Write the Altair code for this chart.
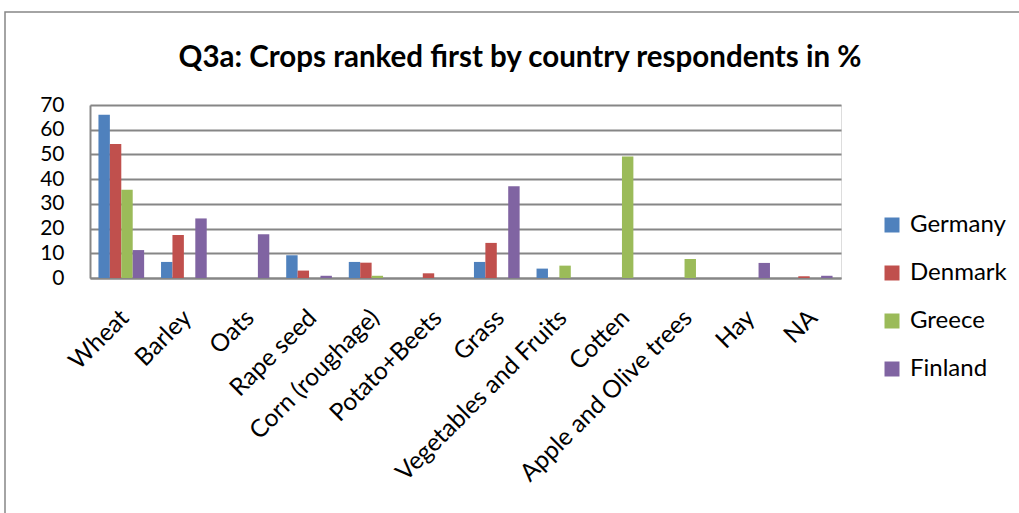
import altair as alt
import pandas as pd

crops = ["Wheat", "Barley", "Oats", "Rape seed", "Corn (roughage)", "Potato+Beets",
         "Grass", "Vegetables and Fruits", "Cotten", "Apple and Olive trees", "Hay", "NA"]
countries = ["Germany", "Denmark", "Greece", "Finland"]
colors = ["#4F81BD", "#C0504D", "#9BBB59", "#8064A2"]

germany = [66.1, 6.5, 0, 9.2, 6.5, 0, 6.5, 3.8, 0, 0, 0, 0]
denmark = [54.2, 17.4, 0, 3.0, 6.2, 1.9, 14.2, 0, 0, 0, 0, 0.7]
greece = [35.7, 0, 0, 0, 0.9, 0, 0, 5.0, 49.2, 7.7, 0, 0]
finland = [11.3, 24.1, 17.7, 0.9, 0, 0, 37.1, 0, 0, 0, 6.1, 0.9]

title_text = "Q3a: Crops ranked first by country respondents in %"

series = {"Germany": germany, "Denmark": denmark, "Greece": greece, "Finland": finland}
rows = []
for country in countries:
    for crop, v in zip(crops, series[country]):
        rows.append({"crop": crop, "country": country, "value": v})
df = pd.DataFrame(rows)

FONT = "Lato"

bars = alt.Chart(df).mark_bar().encode(
    x=alt.X("crop:N", sort=crops, title=None,
            scale=alt.Scale(paddingInner=0.27, paddingOuter=0.135),
            axis=alt.Axis(labelAngle=-45, labelFontSize=24.5, labelFont=FONT, labelColor="#000000",
                          labelAlign="right", labelBaseline="middle", labelPadding=36,
                          labelOffset=4, labelLimit=0,
                          ticks=False, domainColor="#868686", domainWidth=2, grid=False,
                          labelOverlap=False)),
    xOffset=alt.XOffset("country:N", sort=countries),
    y=alt.Y("value:Q", title=None, scale=alt.Scale(domain=[0, 70], nice=False),
            axis=alt.Axis(values=list(range(0, 71, 10)), labelFontSize=21, labelFont=FONT,
                          labelColor="#000000", labelPadding=26, ticks=False,
                          domainColor="#868686", domainWidth=2,
                          gridColor="#868686", gridWidth=2)),
    color=alt.Color("country:N", sort=countries,
                    scale=alt.Scale(domain=countries, range=colors),
                    legend=alt.Legend(title=None, orient="none", legendX=790, legendY=108,
                                      symbolType="square", symbolSize=225, symbolStrokeWidth=0,
                                      labelFontSize=24, labelFont=FONT, labelColor="#000000",
                                      rowPadding=24, labelOffset=6)),
)

# chart border
frame = alt.Chart(pd.DataFrame({"a": [0]})).mark_rect(
    fill=None, stroke="#868686", strokeWidth=1.5
).encode(x=alt.value(-85), x2=alt.value(960), y=alt.value(-93), y2=alt.value(450))

# chart heading
heading = alt.Chart(pd.DataFrame({"t": [title_text]})).mark_text(
    font=FONT, fontSize=29.5, fontWeight="bold", color="#000000",
    align="center", baseline="alphabetic"
).encode(text="t:N", x=alt.value(430), y=alt.value(-38))

chart = alt.layer(frame, bars, heading).properties(
    width=751, height=173,
    autosize=alt.AutoSizeParams(type="none"),
    padding={"left": 90, "top": 105, "right": 178, "bottom": 235},
).configure_view(stroke=None).configure(background="white")

chart.save("out.html", embed_options={"renderer": "svg", "actions": False})
